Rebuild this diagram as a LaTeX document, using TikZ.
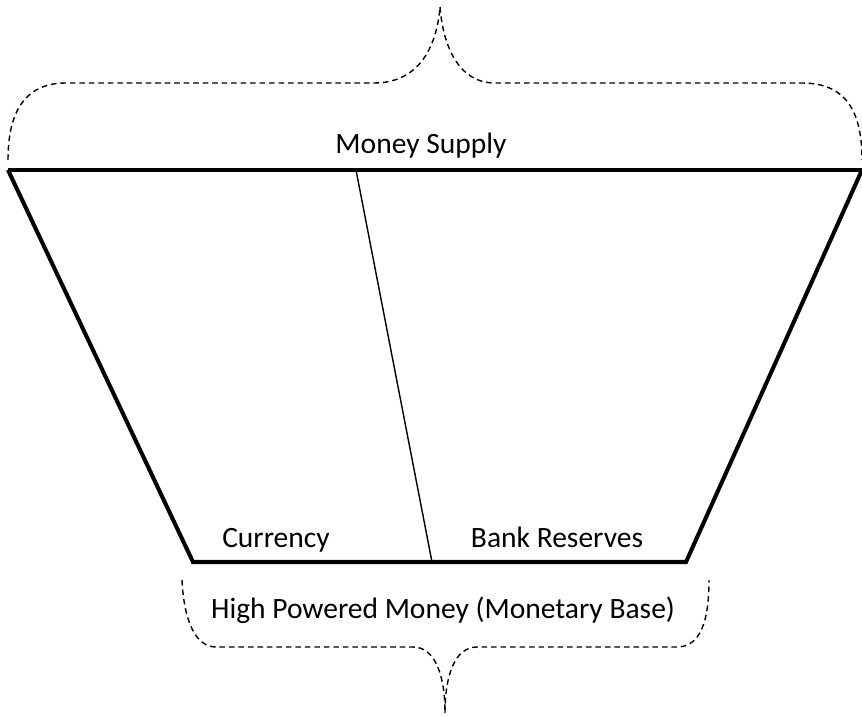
\documentclass[tikz,border=0pt]{standalone}
\usepackage{fontspec}
\setmainfont{Carlito}
\usetikzlibrary{positioning,calc}

\begin{document}
\begin{tikzpicture}[
	x=0.02cm, y=-0.02cm,
	% thick outline of the funnel
	edge/.style={line width=2.3pt, line join=miter},
	% thin split line
	split/.style={line width=0.8pt},
	% dashed braces
	brace/.style={dashed, dash pattern=on 3.2pt off 2.2pt, line width=0.8pt},
	% labels
	lbl/.style={font=\fontsize{16.8}{20}\selectfont, inner sep=0pt, anchor=base}
	]
	\useasboundingbox (0,0) rectangle (862,717);
	
	% --- corners ---
	\coordinate (tl) at (8,170);
	\coordinate (tr) at (862,170);
	\coordinate (bl) at (193,562);
	\coordinate (br) at (686,562);
	\coordinate (st) at (356,170);
	\coordinate (sb) at (432,562);
	
	% --- funnel ---
	\draw[edge] (tl) -- (tr);
	\draw[edge] (tl) -- (bl) -- (br) -- (tr);
	\draw[split] (st) -- (sb);
	
	% --- labels ---
	\node[lbl] (supply) at (421,153) {Money Supply};
	\node[lbl] (cur) at (276,547) {Currency};
	\node[lbl] (res) at (557,547) {Bank Reserves};
	\node[lbl] (base) at (443,618) {High Powered Money (Monetary Base)};
	
	% --- top brace ---
	\draw[brace] (8,160) .. controls (8,105) and (30,83) .. (66,83) -- (374,83)
		.. controls (420,83) and (437,45) .. (440,7);
	\draw[brace] (440,7) .. controls (443,45) and (458,83) .. (495,83) -- (802,83)
		.. controls (845,83) and (862,110) .. (862,160);
	
	% --- bottom brace ---
	\draw[brace] (182,580) .. controls (184,622) and (196,647) .. (216,647) -- (413,647)
		.. controls (435,647) and (445,675) .. (445,713);
	\draw[brace] (445,713) .. controls (445,675) and (455,647) .. (477,647) -- (677,647)
		.. controls (700,647) and (709,622) .. (709,580);
\end{tikzpicture}
\end{document}
